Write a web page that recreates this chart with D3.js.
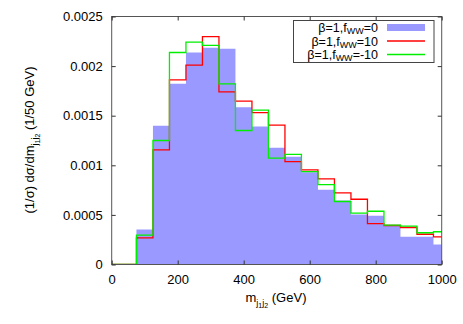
<!DOCTYPE html>
<html><head><meta charset="utf-8">
<script src="https://cdn.jsdelivr.net/npm/d3@7"></script>
<style>body{margin:0;background:#fff}text{font-family:"Liberation Sans",Arial,sans-serif;}</style>
</head><body><svg id="c" width="463" height="324"></svg>
<script>
const binCenters = [100,150,200,250,300,350,400,450,500,550,600,650,700,750,800,850,900,950,1000];
const fww0   = [0.000353,0.001398,0.001821,0.002137,0.002184,0.002174,0.001586,0.001391,0.001176,0.001085,0.000930,0.000753,0.000645,0.000504,0.000491,0.000390,0.000279,0.000279,0.000202];
const fww10  = [0.000269,0.001156,0.001862,0.002009,0.002298,0.001741,0.001646,0.001532,0.001404,0.001038,0.000954,0.000864,0.000722,0.000658,0.000413,0.000393,0.000373,0.000305,0.000279];
const fwwm10 = [0.000296,0.001250,0.002137,0.002241,0.002208,0.001821,0.001351,0.001556,0.001072,0.001110,0.000937,0.000806,0.000635,0.000517,0.000537,0.000396,0.000386,0.000320,0.000330];
const xTicks = [0,200,400,600,800,1000];
const yTicks = [0,0.0005,0.001,0.0015,0.002,0.0025];
const yTickLabels = ["0","0.0005","0.001","0.0015","0.002","0.0025"];
const binWidth = 50;

const svg = d3.select("#c");
const L=111.7, R=441.7, T=16.5, B=264.5;
const x = d3.scaleLinear().domain([0,1000]).range([L,R]);
const y = d3.scaleLinear().domain([0,0.0025]).range([B,T]);

svg.append("clipPath").attr("id","clip").append("rect")
  .attr("x",L).attr("y",T).attr("width",R-L).attr("height",B-T);
const g = svg.append("g").attr("clip-path","url(#clip)");

function stepPts(vals){
  const pts=[];
  binCenters.forEach((c,i)=>{pts.push([c-binWidth/2,vals[i]]);pts.push([c+binWidth/2,vals[i]]);});
  return pts;
}
const area = d3.area().x(d=>x(d[0])).y0(y(0)).y1(d=>y(d[1]));
g.append("path").attr("d",area(stepPts(fww0))).attr("fill","#9999ff").attr("stroke","none");

const line = d3.line().x(d=>x(d[0])).y(d=>y(d[1]));
function linePts(vals){ return [[0,0],[binCenters[0]-binWidth/2,0]].concat(stepPts(vals)); }
g.append("path").attr("d",line(linePts(fww10))).attr("fill","none").attr("stroke","#ff0000").attr("stroke-width",1.3);
g.append("path").attr("d",line(linePts(fwwm10))).attr("fill","none").attr("stroke","#00ee00").attr("stroke-width",1.3);

svg.append("rect").attr("x",L).attr("y",T).attr("width",R-L).attr("height",B-T)
  .attr("fill","none").attr("stroke","#555").attr("stroke-width",1);

const xb = d3.axisBottom(x).tickValues(xTicks).tickSize(-4).tickPadding(10).tickFormat(d3.format("d"));
const xt = d3.axisTop(x).tickValues(xTicks).tickSize(-4).tickFormat("");
const yl = d3.axisLeft(y).tickValues(yTicks).tickSize(-4).tickPadding(9).tickFormat((d,i)=>yTickLabels[i]);
const yr = d3.axisRight(y).tickValues(yTicks).tickSize(-4).tickFormat("");
[[xb,`translate(0,${B})`],[xt,`translate(0,${T})`],[yl,`translate(${L},0)`],[yr,`translate(${R},0)`]].forEach(([a,t])=>{
  const ga=svg.append("g").attr("transform",t).call(a);
  ga.select(".domain").remove();
  ga.selectAll(".tick line").attr("stroke","#333");
  ga.selectAll("text").attr("font-size",13).attr("fill","#000").attr("font-family","Liberation Sans, Arial, sans-serif");
});

const xl = svg.append("text").attr("x",276).attr("y",302).attr("text-anchor","middle").attr("font-size",13);
xl.append("tspan").text("m");
xl.append("tspan").attr("font-size",9).attr("dy",4).text("j");
xl.append("tspan").attr("font-size",7).attr("dy",2).text("1");
xl.append("tspan").attr("font-size",9).attr("dy",-2).text("j");
xl.append("tspan").attr("font-size",7).attr("dy",2).text("2");
xl.append("tspan").attr("dy",-6).text(" (GeV)");

const ylab = svg.append("text").attr("transform","translate(34,140) rotate(-90)").attr("text-anchor","middle").attr("font-size",13);
ylab.append("tspan").text("(1/σ) dσ/dm");
ylab.append("tspan").attr("font-size",9).attr("dy",4).text("j");
ylab.append("tspan").attr("font-size",7).attr("dy",2).text("1");
ylab.append("tspan").attr("font-size",9).attr("dy",-2).text("j");
ylab.append("tspan").attr("font-size",7).attr("dy",2).text("2");
ylab.append("tspan").attr("dy",-6).text(" (1/50 GeV)");

const legNames = ["0","10","-10"];
const legColors = ["#9999ff","#ff0000","#00ee00"];
svg.append("rect").attr("x",293.5).attr("y",20.5).attr("width",140.5).attr("height",42)
  .attr("fill","#fff").attr("stroke","#444").attr("stroke-width",1);
legNames.forEach((n,i)=>{
  const yy = 27.5+i*13.5;
  const t = svg.append("text").attr("x",378).attr("y",yy+4.5).attr("text-anchor","end").attr("font-size",12.5);
  t.append("tspan").text("β=1,f");
  t.append("tspan").attr("font-size",9).attr("dy",2).text("WW");
  t.append("tspan").attr("dy",-2).text("="+n);
  if(i===0){
    svg.append("rect").attr("x",387).attr("y",yy-3.5).attr("width",38).attr("height",7).attr("fill",legColors[i]);
  } else {
    svg.append("line").attr("x1",387).attr("x2",425).attr("y1",yy).attr("y2",yy).attr("stroke",legColors[i]).attr("stroke-width",1.3);
  }
});
</script></body></html>
